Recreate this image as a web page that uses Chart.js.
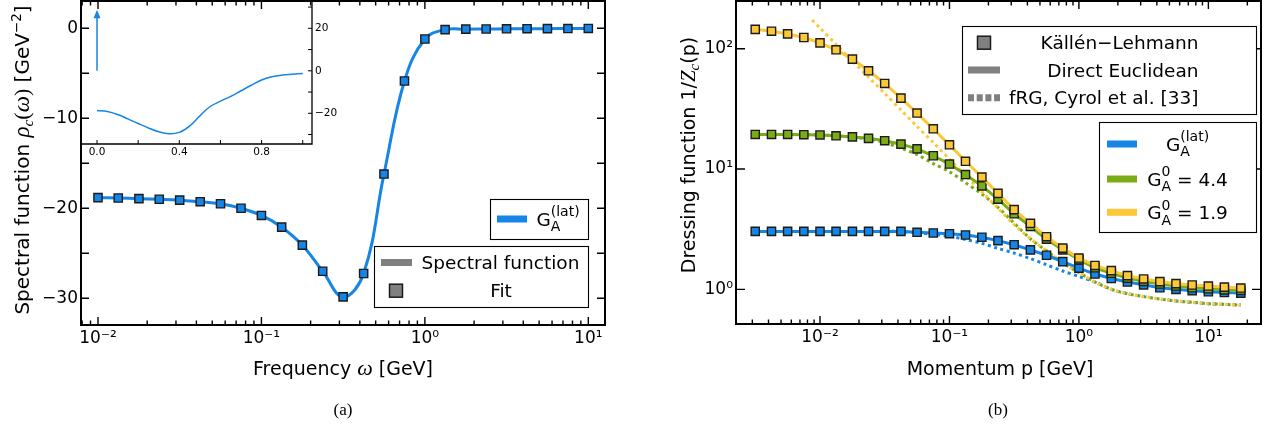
<!DOCTYPE html>
<html>
<head>
<meta charset="utf-8">
<script src="https://cdn.jsdelivr.net/npm/chart.js@4.4.1/dist/chart.umd.min.js"></script>
<style>
  html, body { margin: 0; padding: 0; background: #fff; }
  #wrap { position: relative; width: 1273px; height: 432px; overflow: hidden; }
  canvas { position: absolute; top: 0; }
</style>
</head>
<body>
<div id="wrap">
  <canvas id="chartA" width="640" height="432" style="left:0"></canvas>
  <canvas id="inset" width="360" height="170" style="left:0"></canvas>
  <canvas id="chartB" width="633" height="432" style="left:640px"></canvas>
</div>
<script>
// ---- panel (a): spectral function and fit points (8 per decade) ----
const omegaFit = [0.01, 0.0133, 0.0178, 0.0237, 0.0316, 0.0422, 0.0562, 0.075,
                  0.1, 0.133, 0.178, 0.237, 0.316, 0.422, 0.562, 0.75,
                  1.0, 1.33, 1.78, 2.37, 3.16, 4.22, 5.62, 7.5, 10];
const rhoFit = [-18.82, -18.86, -18.93, -19.0, -19.1, -19.27, -19.5, -20.0,
                -20.8, -22.1, -24.1, -27.0, -29.85, -27.25, -16.2, -5.86,
                -1.19, -0.15, -0.1, -0.08, -0.06, -0.05, -0.04, -0.03, -0.02];

// inset: same function on a linear axis, plus the delta peak at zero
const omegaLin = [0, 0.05, 0.1, 0.15, 0.2, 0.25, 0.3, 0.35, 0.4, 0.45, 0.5,
                  0.55, 0.6, 0.65, 0.7, 0.75, 0.8, 0.85, 0.9, 0.95, 1.0];
const rhoLin = [-18.7, -19.2, -20.6, -22.6, -24.8, -26.9, -28.7, -29.6, -29.0, -26.0, -21.2,
                -16.8, -14.3, -12.0, -9.4, -6.8, -4.3, -2.8, -2.0, -1.6, -1.25];
const deltaOmega = 0;
const deltaTop = 28.7;

// ---- panel (b): dressing functions ----
const momentum = [0.00316, 0.00422, 0.00562, 0.0075,
                  0.01, 0.0133, 0.0178, 0.0237, 0.0316, 0.0422, 0.0562, 0.075,
                  0.1, 0.133, 0.178, 0.237, 0.316, 0.422, 0.562, 0.75,
                  1.0, 1.33, 1.78, 2.37, 3.16, 4.22, 5.62, 7.5,
                  10, 13.3, 17.8];
const dressLat = [3.03, 3.03, 3.03, 3.03, 3.03, 3.03, 3.03, 3.03, 3.03, 3.03,
                  2.98, 2.94, 2.90, 2.83, 2.71, 2.54, 2.35, 2.13, 1.92, 1.70, 1.50,
                  1.34, 1.23, 1.15, 1.09, 1.03, 1.0, 0.975, 0.955, 0.94, 0.93];
const dress44 = [19.4, 19.4, 19.4, 19.3, 19.2, 18.9, 18.5, 18.0, 17.2, 16.1,
                 14.7, 12.9, 11.0, 9.0, 7.25, 5.62, 4.25, 3.33, 2.61, 2.13, 1.76,
                 1.51, 1.36, 1.24, 1.165, 1.107, 1.065, 1.03, 1.01, 0.99, 0.98];
const dress19 = [145, 140, 133, 124, 112, 98, 82, 65.6, 51.5, 38.9,
                 29.2, 21.6, 15.9, 11.6, 8.58, 6.28, 4.6, 3.54, 2.74, 2.2, 1.82,
                 1.58, 1.43, 1.30, 1.22, 1.16, 1.115, 1.086, 1.065, 1.043, 1.025];

// fRG curves (dotted)
const momentumFrg19 = [0.0087].concat(momentum.slice(4));
const frg19 = [173, 149, 109, 79, 58, 42.5, 31, 22.6, 16.6, 12.1, 8.8, 6.46, 4.72, 3.45,
               2.63, 2.09, 1.66, 1.38, 1.15, 1.0, 0.92, 0.87, 0.83, 0.80, 0.78, 0.76, 0.75, 0.74];
const frgLat = [3.03, 3.03, 3.03, 3.03, 3.03, 3.03, 3.03, 3.03, 3.03, 3.03,
                2.95, 2.87, 2.76, 2.60, 2.41, 2.19, 2.0, 1.8, 1.6, 1.42, 1.28,
                1.15, 1.0, 0.92, 0.87, 0.83, 0.80, 0.78, 0.76, 0.75, 0.74];
const frg44 = [19.4, 19.4, 19.4, 19.3, 19.2, 18.9, 18.4, 17.7, 16.6, 14.9,
               13.2, 11.1, 9.5, 7.7, 6.2, 4.8, 3.55, 2.63, 2.09, 1.66, 1.38,
               1.15, 1.0, 0.92, 0.87, 0.83, 0.80, 0.78, 0.76, 0.75, 0.74];

// ---- ticks and tick labels ----
const xMajorA = [0.01, 0.1, 1, 10];
const xLabelsA = ['10⁻²', '10⁻¹', '10⁰', '10¹'];
const yTicksA = [-30, -25, -20, -15, -10, -5, 0];
const yLabelsA = ['−30', '', '−20', '', '−10', '', '0'];
const insetXTicks = [0, 0.2, 0.4, 0.6, 0.8, 1.0];
const insetXLabels = ['0.0', '', '0.4', '', '0.8', ''];
const insetYTicks = [-30, -20, -10, 0, 10, 20, 30];
const insetYLabels = ['', '−20', '', '0', '', '20', ''];
const xMajorB = [0.01, 0.1, 1, 10];
const xLabelsB = ['10⁻²', '10⁻¹', '10⁰', '10¹'];
const yTicksB = [1, 10, 100];
const yLabelsB = ['10⁰', '10¹', '10²'];

const BLUE = '#1585e6', GREEN = '#7aac17', YELLOW = '#fcc838', GRAY = '#808080', EDGE = '#1b1b1b';
const SANS = '"DejaVu Sans", sans-serif';
const sans = s => `${s}px ${SANS}`;
const mathIt = s => `italic ${s}px "Liberation Serif", serif`;
const roman = s => `${s}px "Liberation Serif", serif`;

function labelAt(v, vals, labels) {
  const i = vals.findIndex(t => Math.abs(Math.log10(t) - Math.log10(v)) < 1e-6);
  return i >= 0 ? labels[i] : '';
}

function logTicks(scale) {
  const out = [];
  for (let e = Math.floor(Math.log10(scale.min)); e <= Math.ceil(Math.log10(scale.max)); e++) {
    for (let m = 1; m <= 9; m++) {
      const v = m * Math.pow(10, e);
      if (v >= scale.min && v <= scale.max) out.push({ value: v, major: m === 1 });
    }
  }
  scale.ticks = out;
}

function fixedTicks(list) {
  return scale => { scale.ticks = list.map(v => ({ value: v, major: true })); };
}

// fixed axis size, and no extra label padding pushed onto the chart area
function fitTo(key, size) {
  return s => {
    s[key] = size;
    s.paddingTop = s.paddingBottom = s.paddingLeft = s.paddingRight = 0;
  };
}

function tickOpts(size, pad, cb) {
  return { autoSkip: false, maxRotation: 0, minRotation: 0, color: '#000',
           font: { family: SANS, size: size }, padding: pad, callback: cb };
}
const noGrid = { display: false, drawTicks: false };
const noBorder = { display: false };

// text with sub/superscripts, drawn left to right
function drawRich(ctx, parts, x, y, align) {
  let w = 0;
  for (const p of parts) {
    ctx.font = p.f;
    p.w = p.stack ? Math.max(ctx.measureText(p.sup).width, ctx.measureText(p.sub).width)
                  : ctx.measureText(p.t).width;
    w += p.w;
  }
  let cx = align === 'center' ? x - w / 2 : align === 'right' ? x - w : x;
  ctx.textAlign = 'left';
  ctx.textBaseline = 'alphabetic';
  ctx.fillStyle = '#000';
  for (const p of parts) {
    ctx.font = p.f;
    if (p.stack) {
      ctx.fillText(p.sup, cx, y - 9.5);
      ctx.fillText(p.sub, cx, y + 5.5);
    } else {
      ctx.fillText(p.t, cx, y + (p.dy || 0));
    }
    cx += p.w;
  }
}

function drawLegend(ctx, box, rows) {
  ctx.save();
  ctx.fillStyle = '#fff';
  ctx.fillRect(box.x, box.y, box.w, box.h);
  ctx.strokeStyle = '#000';
  ctx.lineWidth = 1.1;
  ctx.strokeRect(box.x + 0.5, box.y + 0.5, box.w, box.h);
  for (const r of rows) {
    if (r.line) {
      ctx.strokeStyle = r.line;
      ctx.lineWidth = 7;
      ctx.setLineDash(r.dash || []);
      ctx.beginPath();
      ctx.moveTo(r.x0, r.y);
      ctx.lineTo(r.x1, r.y);
      ctx.stroke();
      ctx.setLineDash([]);
    }
    if (r.square) {
      const h = 6.5;
      ctx.fillStyle = r.square;
      ctx.fillRect(r.cx - h, r.y - h, 2 * h, 2 * h);
      ctx.strokeStyle = EDGE;
      ctx.lineWidth = 1.5;
      ctx.strokeRect(r.cx - h, r.y - h, 2 * h, 2 * h);
    }
    drawRich(ctx, r.text, r.tx, r.y + 6.7, r.align);
  }
  ctx.restore();
}

// inward tick marks on chosen sides, plus the frame
function frameTicks(id, spec) {
  return {
    id: id,
    afterDraw(chart) {
      const ctx = chart.ctx, a = chart.chartArea;
      ctx.save();
      ctx.strokeStyle = '#000';
      ctx.lineWidth = spec.tickWidth;
      for (const ax of spec.axes) {
        const s = chart.scales[ax.id];
        for (const t of s.ticks) {
          const len = t.major ? ax.major : ax.minor;
          if (!len) continue;
          const p = s.getPixelForValue(t.value);
          ctx.beginPath();
          if (s.isHorizontal()) {
            if (ax.sides.includes('bottom')) { ctx.moveTo(p, a.bottom); ctx.lineTo(p, a.bottom - len); }
            if (ax.sides.includes('top')) { ctx.moveTo(p, a.top); ctx.lineTo(p, a.top + len); }
          } else {
            if (ax.sides.includes('left')) { ctx.moveTo(a.left, p); ctx.lineTo(a.left + len, p); }
            if (ax.sides.includes('right')) { ctx.moveTo(a.right, p); ctx.lineTo(a.right - len, p); }
          }
          ctx.stroke();
        }
      }
      ctx.lineWidth = spec.frameWidth;
      ctx.beginPath();
      if (spec.fullFrame) {
        ctx.rect(a.left, a.top, a.right - a.left, a.bottom - a.top);
      } else {
        ctx.moveTo(a.left, a.bottom);
        ctx.lineTo(a.right, a.bottom);
        ctx.lineTo(a.right, a.top);
      }
      ctx.stroke();
      ctx.restore();
      if (spec.extra) spec.extra(chart);
    }
  };
}

const common = {
  responsive: false, animation: false, events: [], devicePixelRatio: 1,
  plugins: { legend: { display: false }, tooltip: { enabled: false } }
};

// ---------- panel (a) ----------
const yTitleA = [
  { t: 'Spectral function ', f: sans(20) },
  { t: 'ρ', f: mathIt(23) },
  { t: 'c', f: mathIt(15.5), dy: 4 },
  { t: '(', f: roman(22) },
  { t: 'ω', f: mathIt(23) },
  { t: ')', f: roman(22) },
  { t: ' [GeV', f: sans(20) },
  { t: '−2', f: sans(13.5), dy: -8.5 },
  { t: ']', f: sans(20) }
];

function textA(chart) {
  const ctx = chart.ctx;
  ctx.save();
  drawRich(ctx, [{ t: 'Frequency ', f: sans(19) }, { t: 'ω', f: mathIt(22) }, { t: ' [GeV]', f: sans(19) }],
           343, 375, 'center');
  drawRich(ctx, [{ t: '(a)', f: roman(17) }], 343, 415, 'center');
  ctx.save();
  ctx.translate(22, 160);
  ctx.rotate(-Math.PI / 2);
  drawRich(ctx, yTitleA, 0, 7, 'center');
  ctx.restore();
  drawLegend(ctx, { x: 490, y: 199, w: 98, h: 40 }, [
    { line: BLUE, x0: 497, x1: 527, y: 219, tx: 558, align: 'center',
      text: [{ t: 'G', f: sans(18.5) }, { stack: true, sup: '(lat)', sub: 'A', f: sans(14) }] }
  ]);
  drawLegend(ctx, { x: 374, y: 246, w: 214, h: 61 }, [
    { line: GRAY, x0: 381, x1: 412, y: 262.5, tx: 500.5, align: 'center',
      text: [{ t: 'Spectral function', f: sans(18.5) }] },
    { square: GRAY, cx: 396, y: 290.7, tx: 501, align: 'center',
      text: [{ t: 'Fit', f: sans(18.5) }] }
  ]);
  ctx.restore();
}

new Chart(document.getElementById('chartA'), {
  type: 'line',
  data: {
    datasets: [{
      data: omegaFit.map((w, i) => ({ x: w, y: rhoFit[i] })),
      borderColor: BLUE, borderWidth: 3, tension: 0.4,
      pointStyle: 'rect', pointRadius: 5.8,
      pointBackgroundColor: BLUE, pointBorderColor: EDGE, pointBorderWidth: 1.4
    }]
  },
  options: Object.assign({}, common, {
    layout: { autoPadding: false, padding: { top: 1, right: 35, left: 0, bottom: 0 } },
    scales: {
      x: {
        type: 'logarithmic', min: 0.00787, max: 12.65,
        afterBuildTicks: logTicks, afterFit: fitTo('height', 107),
        grid: noGrid, border: noBorder,
        ticks: tickOpts(17, 3, v => labelAt(v, xMajorA, xLabelsA))
      },
      y: {
        type: 'linear', min: -32.97, max: 3.03,
        afterBuildTicks: fixedTicks(yTicksA), afterFit: fitTo('width', 81),
        grid: noGrid, border: noBorder,
        ticks: tickOpts(17, 3, (v, i) => yLabelsA[i])
      }
    }
  }),
  plugins: [frameTicks('ticksA', {
    tickWidth: 1.4, frameWidth: 2, fullFrame: true,
    axes: [
      { id: 'x', sides: ['bottom', 'top'], major: 8, minor: 4.5 },
      { id: 'y', sides: ['left', 'right'], major: 8, minor: 8 }
    ],
    extra: textA
  })]
});

// ---------- inset ----------
function arrowInset(chart) {
  const ctx = chart.ctx, s = chart.scales;
  const xs = s.x.getPixelForValue(deltaOmega);
  const y0 = s.y.getPixelForValue(0), y1 = s.y.getPixelForValue(deltaTop);
  ctx.save();
  ctx.strokeStyle = BLUE;
  ctx.fillStyle = BLUE;
  ctx.lineWidth = 1.5;
  ctx.beginPath();
  ctx.moveTo(xs, y0);
  ctx.lineTo(xs, y1 + 6);
  ctx.stroke();
  ctx.beginPath();
  ctx.moveTo(xs, y1);
  ctx.lineTo(xs - 3.5, y1 + 8.5);
  ctx.lineTo(xs + 3.5, y1 + 8.5);
  ctx.closePath();
  ctx.fill();
  ctx.restore();
}

new Chart(document.getElementById('inset'), {
  type: 'line',
  data: {
    datasets: [{
      data: omegaLin.map((w, i) => ({ x: w, y: rhoLin[i] })),
      borderColor: BLUE, borderWidth: 1.5, pointRadius: 0, tension: 0.4
    }]
  },
  options: Object.assign({}, common, {
    layout: { autoPadding: false, padding: { top: 1, left: 82, right: 0, bottom: 0 } },
    scales: {
      x: {
        type: 'linear', min: -0.073, max: 1.045,
        afterBuildTicks: fixedTicks(insetXTicks), afterFit: fitTo('height', 26),
        grid: noGrid, border: noBorder,
        ticks: tickOpts(10.5, 1.5, (v, i) => insetXLabels[i])
      },
      y: {
        type: 'linear', position: 'right', min: -34.45, max: 32.85,
        afterBuildTicks: fixedTicks(insetYTicks), afterFit: fitTo('width', 48),
        grid: noGrid, border: noBorder,
        ticks: tickOpts(10.5, 3, (v, i) => insetYLabels[i])
      }
    }
  }),
  plugins: [frameTicks('ticksInset', {
    tickWidth: 1, frameWidth: 1.3, fullFrame: false,
    axes: [
      { id: 'x', sides: ['bottom'], major: 4, minor: 4 },
      { id: 'y', sides: ['right'], major: 4, minor: 4 }
    ],
    extra: arrowInset
  })]
});

// ---------- panel (b) ----------
function textB(chart) {
  const ctx = chart.ctx;
  ctx.save();
  drawRich(ctx, [{ t: 'Momentum p [GeV]', f: sans(19) }], 360, 375, 'center');
  drawRich(ctx, [{ t: '(b)', f: roman(17) }], 358, 415, 'center');
  ctx.save();
  ctx.translate(48, 155);
  ctx.rotate(-Math.PI / 2);
  drawRich(ctx, [
    { t: 'Dressing function 1/', f: sans(19) },
    { t: 'Z', f: mathIt(21) },
    { t: 'c', f: mathIt(15), dy: 4 },
    { t: '(p)', f: sans(19) }
  ], 0, 7, 'center');
  ctx.restore();
  drawLegend(ctx, { x: 322, y: 26, w: 294, h: 88 }, [
    { square: GRAY, cx: 344, y: 42.7, tx: 558.5, align: 'right',
      text: [{ t: 'Källén−Lehmann', f: sans(18.5) }] },
    { line: GRAY, x0: 328, x1: 360, y: 70, tx: 558.5, align: 'right',
      text: [{ t: 'Direct Euclidean', f: sans(18.5) }] },
    { line: GRAY, dash: [6, 2.7], x0: 328, x1: 360, y: 97.7, tx: 558.5, align: 'right',
      text: [{ t: 'fRG, Cyrol et al. [33]', f: sans(18.5) }] }
  ]);
  const G0 = val => [{ t: 'G', f: sans(18.5) }, { stack: true, sup: '0', sub: 'A', f: sans(14) },
                     { t: ' = ' + val, f: sans(18.5) }];
  drawLegend(ctx, { x: 459, y: 122, w: 157, h: 110 }, [
    { line: BLUE, x0: 467, x1: 497, y: 144, tx: 547.5, align: 'center',
      text: [{ t: 'G', f: sans(18.5) }, { stack: true, sup: '(lat)', sub: 'A', f: sans(14) }] },
    { line: GREEN, x0: 467, x1: 497, y: 179, tx: 547.5, align: 'center', text: G0('4.4') },
    { line: YELLOW, x0: 467, x1: 497, y: 212.3, tx: 547.5, align: 'center', text: G0('1.9') }
  ]);
  ctx.restore();
}

function series(xs, ys, color, order) {
  return {
    data: xs.map((p, i) => ({ x: p, y: ys[i] })), order: order,
    borderColor: color, borderWidth: 3, tension: 0,
    pointStyle: 'rect', pointRadius: 5.8,
    pointBackgroundColor: color, pointBorderColor: EDGE, pointBorderWidth: 1.4
  };
}
function dotted(xs, ys, color, order) {
  return {
    data: xs.map((p, i) => ({ x: p, y: ys[i] })), order: order,
    borderColor: color, borderWidth: 3, borderDash: [3, 3.5], tension: 0.3, pointRadius: 0
  };
}

new Chart(document.getElementById('chartB'), {
  type: 'line',
  data: {
    datasets: [
      series(momentum, dress19, YELLOW, 0),
      series(momentum, dress44, GREEN, 1),
      series(momentum, dressLat, BLUE, 2),
      dotted(momentumFrg19, frg19, YELLOW, 3),
      dotted(momentum, frgLat, BLUE, 4),
      dotted(momentum, frg44, GREEN, 5)
    ]
  },
  options: Object.assign({}, common, {
    layout: { autoPadding: false, padding: { top: 1, right: 12, left: 0, bottom: 0 } },
    scales: {
      x: {
        type: 'logarithmic', min: 0.002244, max: 25.5,
        afterBuildTicks: logTicks, afterFit: fitTo('height', 108),
        grid: noGrid, border: noBorder,
        ticks: tickOpts(17, 3, v => labelAt(v, xMajorB, xLabelsB))
      },
      y: {
        type: 'logarithmic', min: 0.515, max: 249.5,
        afterBuildTicks: fixedTicks(yTicksB), afterFit: fitTo('width', 96),
        grid: noGrid, border: noBorder,
        ticks: tickOpts(17, 3, (v, i) => yLabelsB[i])
      }
    }
  }),
  plugins: [frameTicks('ticksB', {
    tickWidth: 1.4, frameWidth: 2, fullFrame: true,
    axes: [
      { id: 'x', sides: ['bottom', 'top'], major: 8, minor: 4.5 },
      { id: 'y', sides: ['left', 'right'], major: 9, minor: 9 }
    ],
    extra: textB
  })]
});
</script>
</body>
</html>
